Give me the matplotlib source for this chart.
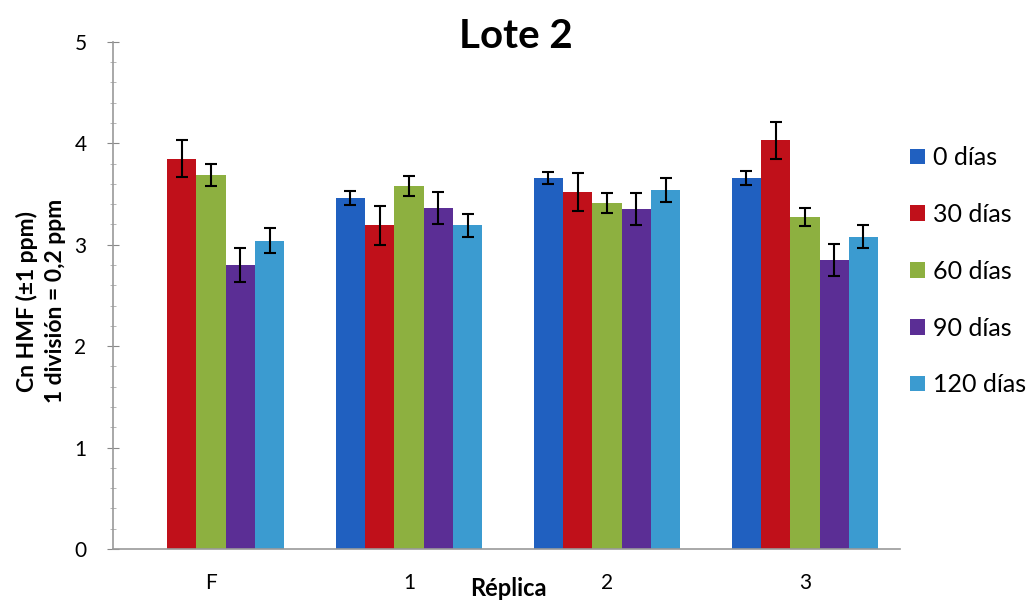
import numpy as np
import matplotlib
matplotlib.use("Agg")
import matplotlib.pyplot as plt
from matplotlib.ticker import MultipleLocator

plt.rcParams['font.family'] = ['Lato', 'DejaVu Sans']

categories = ["F", "1", "2", "3"]
series = ["0 días", "30 días", "60 días", "90 días", "120 días"]
values = {
    "0 días":   [np.nan, 3.46, 3.66, 3.66],
    "30 días":  [3.85, 3.19, 3.52, 4.03],
    "60 días":  [3.69, 3.58, 3.41, 3.27],
    "90 días":  [2.80, 3.36, 3.35, 2.85],
    "120 días": [3.04, 3.19, 3.54, 3.08],
}
errors = {
    "0 días":   [np.nan, 0.07, 0.06, 0.07],
    "30 días":  [0.18, 0.19, 0.19, 0.18],
    "60 días":  [0.11, 0.10, 0.10, 0.09],
    "90 días":  [0.17, 0.16, 0.16, 0.16],
    "120 días": [0.12, 0.11, 0.12, 0.11],
}
colors = ['#2060c0', '#c0101a', '#8db040', '#5b2e95', '#3b9bd0']

fig = plt.figure(figsize=(10.32, 6.07), dpi=100)
ax = fig.add_axes([0.1095, 0.0956, 0.7625, 0.8354])

x = np.arange(len(categories))
w = 0.148
for i, s in enumerate(series):
    ax.bar(x + (i - 2) * w, values[s], width=w, color=colors[i], label=s,
           yerr=errors[s], capsize=4,
           error_kw=dict(ecolor='black', elinewidth=1.5, capthick=1.5))

ax.set_ylim(0, 5)
ax.set_xlim(-0.495, 3.48)
ax.yaxis.set_major_locator(MultipleLocator(1))
ax.yaxis.set_minor_locator(MultipleLocator(0.2))
ax.tick_params(axis='y', which='major', length=8, direction='inout', color='#888888',
               labelsize=15, pad=15)
ax.tick_params(axis='y', which='minor', length=4, direction='inout', color='#aaaaaa')
ax.set_xticks(x)
ax.set_xticklabels(categories)
ax.tick_params(axis='x', length=0, labelsize=15, pad=17)
for sp in ['top', 'right']:
    ax.spines[sp].set_visible(False)
for sp in ['left', 'bottom']:
    ax.spines[sp].set_color('#999999')
    ax.spines[sp].set_linewidth(1.2)

fig.text(516 / 1032, 1 - 37 / 607, "Lote 2", fontsize=29, fontweight='bold',
         ha='center', va='center')
fig.text(41 / 1032, 1 - 301 / 607, "Cn HMF (±1 ppm)\n1 división = 0,2 ppm", fontsize=16.5,
         fontweight='bold', rotation=90, ha='center', va='center', multialignment='center',
         linespacing=1.45)
fig.text(508 / 1032, 1 - 589 / 607, "Réplica", fontsize=17, fontweight='bold',
         ha='center', va='center')

ax.legend(loc='upper left', bbox_to_anchor=(0.882, 0.759), bbox_transform=fig.transFigure,
          frameon=False, fontsize=18, handlelength=0.6, handleheight=0.6,
          handletextpad=0.3, labelspacing=1.35, borderaxespad=0, borderpad=0)

fig.savefig("out.png", dpi=100)
